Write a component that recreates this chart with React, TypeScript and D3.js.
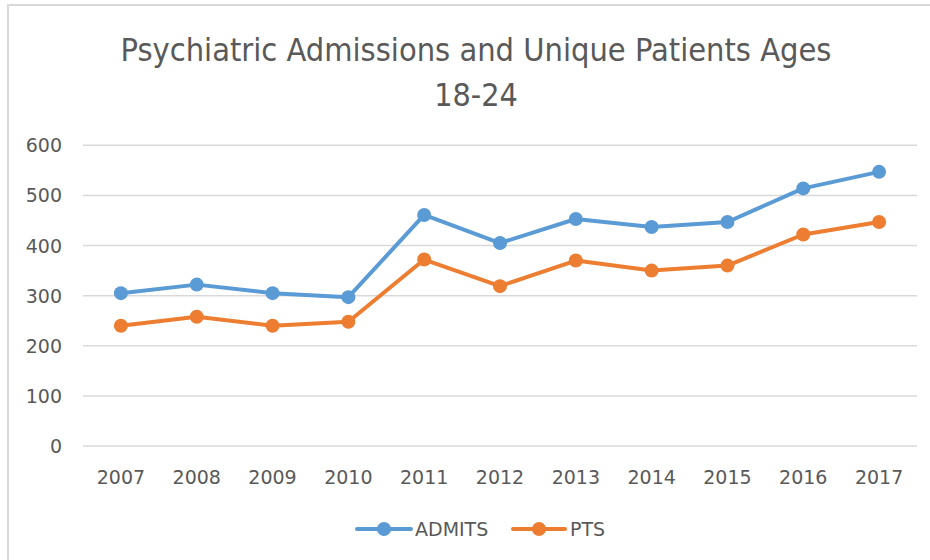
import {useEffect, useRef} from "react";
import * as d3 from "d3";

const years = ["2007", "2008", "2009", "2010", "2011", "2012", "2013", "2014", "2015", "2016", "2017"];
const admits = [305, 322, 305, 297, 461, 405, 453, 437, 447, 514, 547];
const pts = [240, 258, 240, 248, 372, 319, 370, 350, 360, 422, 447];
const yTicks = [0, 100, 200, 300, 400, 500, 600];
const titleLines = ["Psychiatric Admissions and Unique Patients Ages", "18-24"];

const BLUE = "#5b9bd5";
const ORANGE = "#ed7d31";
const TEXT = "#595959";
const FONT = "'DejaVu Sans', sans-serif";

const App = () => {
    const ref = useRef(null);
    const width = 930;
    const height = 560;

    useEffect(() => {
        const svg = d3.select(ref.current);
        svg.selectAll("*").remove();

        // outer frame
        svg.append("rect").attr("x", 8).attr("y", 5).attr("width", 940).attr("height", 570)
            .attr("fill", "white").attr("stroke", "#d9d9d9").attr("stroke-width", 2);

        const x = d3.scaleBand().domain(years).range([83, 917]).padding(0);
        const y = d3.scaleLinear().domain([0, 600]).range([446, 145.3]);
        const cx = d => x(d) + x.bandwidth() / 2;

        // title
        svg.append("text").attr("x", 476).attr("y", 61).attr("text-anchor", "middle")
            .attr("font-family", "'Liberation Sans Narrow', 'DejaVu Sans Condensed', sans-serif")
            .attr("font-size", 32).attr("fill", TEXT)
            .attr("textLength", 711).attr("lengthAdjust", "spacingAndGlyphs")
            .text(titleLines[0]);
        svg.append("text").attr("x", 476).attr("y", 106).attr("text-anchor", "middle")
            .attr("font-family", "'Liberation Sans Narrow', 'DejaVu Sans Condensed', sans-serif")
            .attr("font-size", 32).attr("fill", TEXT)
            .text(titleLines[1]);

        // gridlines + y labels
        const grid = svg.append("g");
        grid.selectAll("line").data(yTicks).enter().append("line")
            .attr("x1", 83).attr("x2", 917)
            .attr("y1", d => y(d)).attr("y2", d => y(d))
            .attr("stroke", "#d9d9d9").attr("stroke-width", 1.5);
        grid.selectAll("text").data(yTicks).enter().append("text")
            .attr("x", 62).attr("y", d => y(d) + 7).attr("text-anchor", "end")
            .attr("font-family", FONT).attr("font-size", 19).attr("fill", TEXT)
            .text(d => d);

        // x labels
        svg.append("g").selectAll("text").data(years).enter().append("text")
            .attr("x", d => cx(d)).attr("y", 484).attr("text-anchor", "middle")
            .attr("font-family", FONT).attr("font-size", 19).attr("fill", TEXT)
            .text(d => d);

        const line = d3.line().x((d, i) => cx(years[i])).y(d => y(d));

        const draw = (vals, color) => {
            const g = svg.append("g");
            g.append("path").attr("d", line(vals)).attr("fill", "none")
                .attr("stroke", color).attr("stroke-width", 4).attr("stroke-linejoin", "round");
            g.selectAll("circle").data(vals).enter().append("circle")
                .attr("cx", (d, i) => cx(years[i])).attr("cy", d => y(d)).attr("r", 7)
                .attr("fill", color);
        };
        draw(admits, BLUE);
        draw(pts, ORANGE);

        // legend
        const legend = [
            {name: "ADMITS", color: BLUE, x0: 357, x1: 411, tx: 415},
            {name: "PTS", color: ORANGE, x0: 513, x1: 565, tx: 570},
        ];
        const lg = svg.append("g").selectAll("g").data(legend).enter().append("g");
        lg.append("line").attr("x1", d => d.x0).attr("x2", d => d.x1).attr("y1", 529).attr("y2", 529)
            .attr("stroke", d => d.color).attr("stroke-width", 4).attr("stroke-linecap", "round");
        lg.append("circle").attr("cx", d => (d.x0 + d.x1) / 2).attr("cy", 529).attr("r", 7)
            .attr("fill", d => d.color);
        lg.append("text").attr("x", d => d.tx).attr("y", 536)
            .attr("font-family", FONT).attr("font-size", 19).attr("fill", TEXT)
            .text(d => d.name);
    }, []);

    return <svg ref={ref} width={width} height={height}
                style={{position: "absolute", left: 0, top: 0, background: "white"}}/>;
};

export default App;
